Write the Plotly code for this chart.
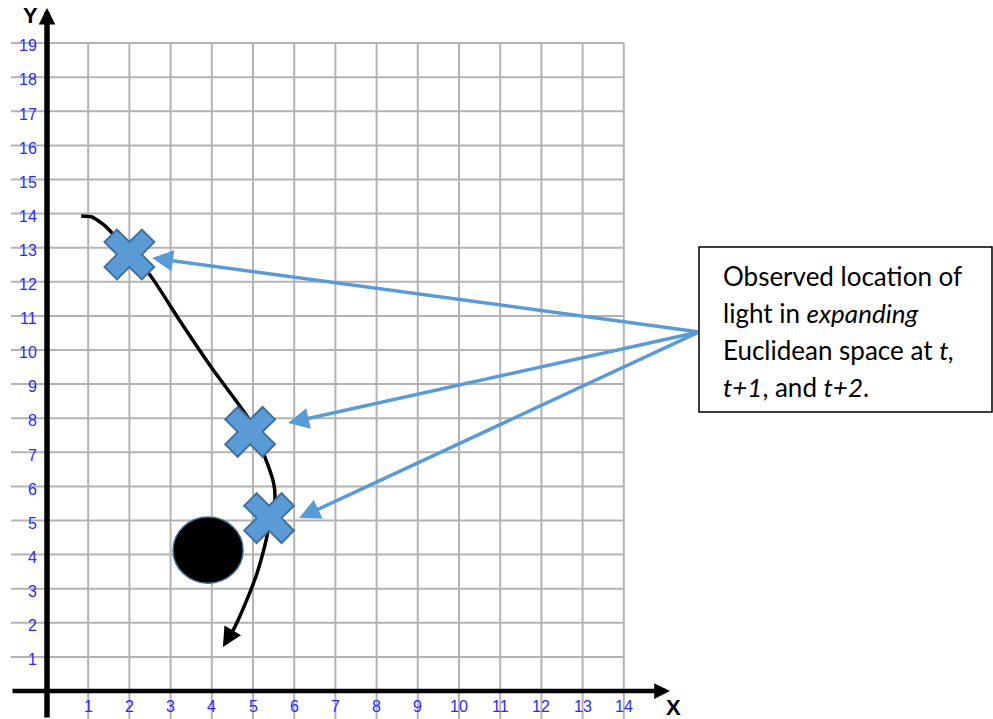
import plotly.graph_objects as go

# ---- data ----
x_ticks = list(range(1, 15))
y_ticks = list(range(1, 20))
x_tick_labels = [str(v) for v in x_ticks]
y_tick_labels = [str(v) for v in y_ticks]

path_x = [0.83, 1.09, 1.41, 1.72, 2.01, 2.50, 3.20, 4.00, 4.88, 5.02, 5.29, 5.50, 5.53, 5.42, 5.32, 5.10, 4.85, 4.56, 4.32]
path_y = [13.93, 13.90, 13.64, 13.23, 12.79, 12.20, 10.90, 9.47, 8.01, 7.60, 6.86, 6.10, 5.60, 5.07, 4.43, 3.46, 2.67, 1.88, 1.38]
arrow_tip = (4.27, 1.29)
arrow_tail = (4.52, 1.80)

obs_x = [2.0, 4.93, 5.39]
obs_y = [12.8, 7.6, 5.07]
pointer_tip_x = [2.55, 5.85, 6.12]
pointer_tip_y = [12.7, 7.86, 5.07]
pointer_src = (15.83, 10.53)

body_center = (3.91, 4.13)
body_rx = 0.85
body_ry = 0.97

box_lines = [
    "Observed location of",
    "light in <i>expanding</i>",
    "Euclidean space at <i>t,</i>",
    "<i>t+1</i>, and <i>t+2</i>.",
]

# ---- figure ----
W, H = 993, 719
X0PX, XSTEP = 47.0, 41.2
Y0PX, YSTEP = 691.0, 34.1
xr = [-X0PX / XSTEP, (W - X0PX) / XSTEP]
yr = [(Y0PX - H) / YSTEP, Y0PX / YSTEP]

fig = go.Figure()
shapes = []
annotations = []
grid_col = "#b3b3b3"

for xv in x_ticks:
    shapes.append(dict(type="line", xref="x", yref="y", x0=xv, x1=xv, y0=yr[0], y1=19,
                       line=dict(color=grid_col, width=2), layer="below"))
for yv in y_ticks:
    shapes.append(dict(type="line", xref="x", yref="y", x0=-0.874, x1=14, y0=yv, y1=yv,
                       line=dict(color=grid_col, width=2), layer="below"))

# main axes
annotations.append(dict(x=15.12, y=0, ax=-0.874, ay=0, xref="x", yref="y", axref="x", ayref="y",
                        showarrow=True, arrowhead=2, arrowsize=0.7, arrowwidth=4.5, arrowcolor="black", text=""))
annotations.append(dict(x=0, y=20.03, ax=0, ay=yr[0], xref="x", yref="y", axref="x", ayref="y",
                        showarrow=True, arrowhead=2, arrowsize=0.6, arrowwidth=5.5, arrowcolor="black", text=""))

tick_font = dict(family="Liberation Sans", size=16, color="#2a2aff")
for xv, lab in zip(x_ticks, x_tick_labels):
    annotations.append(dict(x=xv, y=-0.45, xref="x", yref="y", text=lab, showarrow=False,
                            font=tick_font, xanchor="center", yanchor="middle"))
for yv, lab in zip(y_ticks, y_tick_labels):
    annotations.append(dict(x=-0.2, y=yv - 0.08, xref="x", yref="y", text=lab, showarrow=False,
                            font=tick_font, xanchor="right", yanchor="middle"))

annotations.append(dict(x=-0.41, y=19.8, xref="x", yref="y", text="<b>Y</b>", showarrow=False,
                        font=dict(family="Liberation Sans", size=22, color="black")))
annotations.append(dict(x=15.2, y=-0.47, xref="x", yref="y", text="<b>X</b>", showarrow=False,
                        font=dict(family="Liberation Sans", size=22, color="black")))

# black body
shapes.append(dict(type="circle", xref="x", yref="y",
                   x0=body_center[0] - body_rx, x1=body_center[0] + body_rx,
                   y0=body_center[1] - body_ry, y1=body_center[1] + body_ry,
                   fillcolor="black", line=dict(color="#41719c", width=1.5)))

# light path
fig.add_trace(go.Scatter(x=path_x, y=path_y, mode="lines",
                         line=dict(color="black", width=3.5, shape="spline", smoothing=0.6),
                         hoverinfo="skip", showlegend=False))
annotations.append(dict(x=arrow_tip[0], y=arrow_tip[1], ax=arrow_tail[0], ay=arrow_tail[1],
                        xref="x", yref="y", axref="x", ayref="y", showarrow=True, arrowhead=2,
                        arrowsize=1.1, arrowwidth=3.5, arrowcolor="black", text=""))

# observation markers
fig.add_trace(go.Scatter(x=obs_x, y=obs_y, mode="markers",
                         marker=dict(symbol="x", size=44, color="#5b9bd5",
                                     line=dict(color="#41719c", width=2)),
                         hoverinfo="skip", showlegend=False))

# pointers
for tx, ty in zip(pointer_tip_x, pointer_tip_y):
    annotations.append(dict(x=tx, y=ty, ax=pointer_src[0], ay=pointer_src[1],
                            xref="x", yref="y", axref="x", ayref="y", showarrow=True,
                            arrowhead=2, arrowsize=1.2, arrowwidth=3.5, arrowcolor="#5b9bd5", text=""))

# text box
bx0, by0, bx1, by1 = 699, 247, 992, 412
shapes.append(dict(type="rect", xref="paper", yref="paper",
                   x0=bx0 / W, x1=bx1 / W, y0=1 - by1 / H, y1=1 - by0 / H,
                   fillcolor="white", line=dict(color="black", width=1.5)))
baselines = [285, 322, 359, 396]
for txt, bl in zip(box_lines, baselines):
    annotations.append(dict(xref="paper", yref="paper", x=721 / W, y=1 - (bl - 9) / H,
                            text=txt, showarrow=False, xanchor="left", yanchor="middle",
                            font=dict(family="Lato", size=26, color="black")))

fig.update_layout(
    width=W, height=H, margin=dict(l=0, r=0, t=0, b=0),
    paper_bgcolor="white", plot_bgcolor="white",
    xaxis=dict(range=xr, visible=False, fixedrange=True),
    yaxis=dict(range=yr, visible=False, fixedrange=True),
    shapes=shapes, annotations=annotations, showlegend=False,
)

fig.write_html("out.html", config={"displayModeBar": False},
               post_script="document.body.style.margin='0';")
